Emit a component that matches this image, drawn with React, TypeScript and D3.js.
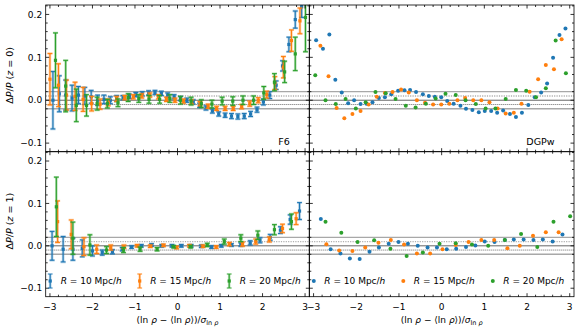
import React from "react";
import * as d3 from "d3";

// ---------- axes ----------
const X_DOMAIN: [number, number] = [-3.1, 3.1];
const Y_DOMAIN: [number, number] = [-0.12, 0.222];
const xTickValues = [-3, -2, -1, 0, 1, 2, 3];
const yTickValues = [-0.1, 0.0, 0.1, 0.2];
const refLevels = [-0.02, -0.01, 0, 0.01, 0.02];
const seriesRadii = ["10", "15", "20"];
const panelLabels = ["F6", "DGPw", "", ""];
const rowRedshifts = ["0", "1"];

// ---------- F6, z = 0 ----------
const f6z0X10 = [-2.93, -2.78, -2.63, -2.48, -2.33, -2.18, -2.03, -1.88, -1.73, -1.58, -1.43, -1.28, -1.13, -0.98, -0.83, -0.68, -0.53, -0.38, -0.23, -0.08, 0.07, 0.22, 0.37, 0.52, 0.67, 0.82, 0.97, 1.12, 1.27, 1.42, 1.57, 1.72, 1.87, 2.02, 2.17, 2.32, 2.47, 2.62, 2.77, 2.92];
const f6z0Y10 = [0.0, 0.015, 0.012, 0.005, 0.012, 0.01, 0.008, 0.0, 0.002, 0.0, 0.004, 0.006, 0.009, 0.013, 0.015, 0.017, 0.018, 0.016, 0.012, 0.008, 0.004, 0.0, -0.004, -0.012, -0.018, -0.025, -0.032, -0.035, -0.037, -0.038, -0.037, -0.032, -0.022, -0.004, 0.012, 0.035, 0.08, 0.13, 0.188, 0.218];
const f6z0E10 = [0.067, 0.042, 0.035, 0.03, 0.02, 0.02, 0.015, 0.012, 0.01, 0.008, 0.007, 0.005, 0.005, 0.005, 0.005, 0.005, 0.005, 0.005, 0.005, 0.005, 0.005, 0.005, 0.005, 0.005, 0.005, 0.005, 0.005, 0.005, 0.006, 0.006, 0.006, 0.006, 0.006, 0.007, 0.008, 0.01, 0.012, 0.017, 0.02, 0.025];
const f6z0X15 = [-3.0, -2.8, -2.61, -2.41, -2.22, -2.02, -1.82, -1.63, -1.43, -1.24, -1.04, -0.84, -0.65, -0.45, -0.26, -0.06, 0.14, 0.33, 0.53, 0.72, 0.92, 1.12, 1.31, 1.51, 1.7, 1.9, 2.1, 2.29, 2.49, 2.68, 2.88];
const f6z0Y15 = [0.049, 0.035, 0.012, 0.009, 0.002, -0.008, -0.009, -0.005, 0.003, 0.006, 0.008, 0.01, 0.012, 0.008, 0.002, 0.0, -0.002, -0.004, -0.008, -0.014, -0.019, -0.019, -0.019, -0.015, -0.008, 0.0, 0.013, 0.04, 0.077, 0.139, 0.185];
const f6z0E15 = [0.06, 0.05, 0.035, 0.033, 0.028, 0.017, 0.012, 0.008, 0.006, 0.005, 0.005, 0.005, 0.005, 0.005, 0.005, 0.005, 0.005, 0.005, 0.005, 0.005, 0.005, 0.005, 0.005, 0.005, 0.006, 0.006, 0.008, 0.015, 0.025, 0.025, 0.03];
const f6z0X20 = [-2.87, -2.63, -2.38, -2.14, -1.89, -1.65, -1.4, -1.16, -0.91, -0.67, -0.42, -0.18, 0.07, 0.32, 0.56, 0.81, 1.05, 1.3, 1.54, 1.79, 2.03, 2.28, 2.52, 2.77, 3.01];
const f6z0Y20 = [0.093, 0.033, -0.012, -0.012, -0.008, -0.008, -0.006, 0.006, 0.004, 0.002, 0.002, 0.004, 0.0, -0.002, -0.008, -0.009, -0.002, -0.002, 0.0, 0.0, 0.017, 0.042, 0.066, 0.108, 0.193];
const f6z0E20 = [0.064, 0.06, 0.038, 0.025, 0.015, 0.01, 0.009, 0.009, 0.009, 0.009, 0.009, 0.009, 0.009, 0.009, 0.009, 0.009, 0.009, 0.01, 0.01, 0.01, 0.015, 0.02, 0.025, 0.039, 0.08];

// ---------- DGPw, z = 0 ----------
const dgpz0X10 = [-2.94, -2.78, -2.63, -2.49, -2.34, -2.19, -2.05, -1.9, -1.76, -1.62, -1.47, -1.33, -1.18, -1.02, -0.87, -0.74, -0.6, -0.44, -0.3, -0.16, -0.01, 0.13, 0.28, 0.44, 0.57, 0.72, 0.87, 1.01, 1.16, 1.3, 1.44, 1.6, 1.74, 1.88, 2.03, 2.18, 2.33, 2.47, 2.61, 2.76, 2.9];
const dgpz0Y10 = [0.14, 0.12, 0.153, 0.048, 0.018, -0.007, 0.0, -0.009, -0.008, -0.005, 0.005, 0.007, 0.014, 0.022, 0.023, 0.024, 0.019, 0.014, 0.01, 0.008, 0.007, -0.002, -0.008, -0.013, -0.02, -0.023, -0.028, -0.025, -0.025, -0.029, -0.024, -0.032, -0.039, -0.029, -0.011, 0.007, 0.018, 0.039, 0.099, 0.152, 0.167];
const dgpz0X15 = [-2.84, -2.65, -2.46, -2.28, -2.09, -1.9, -1.71, -1.52, -1.33, -1.15, -0.95, -0.77, -0.58, -0.39, -0.2, -0.01, 0.18, 0.37, 0.55, 0.74, 0.93, 1.12, 1.31, 1.5, 1.69, 1.87, 2.06, 2.26, 2.44, 2.63, 2.81];
const dgpz0Y15 = [0.127, 0.056, -0.018, -0.042, -0.032, -0.025, -0.01, 0.008, 0.017, 0.019, 0.025, 0.018, 0.0, -0.006, -0.01, -0.01, -0.008, 0.0, 0.005, 0.0, 0.0, -0.005, -0.019, -0.031, -0.029, -0.008, 0.02, 0.049, 0.082, 0.072, 0.142];
const dgpz0X20 = [-2.96, -2.72, -2.48, -2.25, -2.01, -1.78, -1.55, -1.31, -1.08, -0.84, -0.61, -0.37, -0.14, 0.09, 0.33, 0.56, 0.8, 1.03, 1.26, 1.5, 1.74, 1.98, 2.21, 2.44, 2.67, 2.91];
const dgpz0Y20 = [0.058, 0.0, -0.009, 0.003, -0.019, -0.005, 0.019, 0.016, 0.003, -0.013, -0.017, -0.008, 0.004, 0.015, 0.012, 0.0, -0.009, -0.019, -0.019, 0.003, 0.024, 0.022, 0.007, 0.028, 0.139, 0.063];

// ---------- F6, z = 1 ----------
const f6z1X10 = [-2.95, -2.69, -2.46, -2.24, -2.0, -1.77, -1.53, -1.3, -1.08, -0.85, -0.61, -0.37, -0.13, 0.09, 0.32, 0.56, 0.8, 1.03, 1.27, 1.49, 1.71, 1.94, 2.18, 2.42, 2.65, 2.87];
const f6z1Y10 = [0.0, -0.008, -0.008, -0.006, -0.012, -0.016, -0.014, -0.008, -0.003, 0.0, 0.002, 0.0, 0.0, 0.0, 0.0, -0.001, -0.003, 0.0, 0.002, 0.003, 0.007, 0.013, 0.02, 0.037, 0.062, 0.082];
const f6z1E10 = [0.034, 0.03, 0.026, 0.02, 0.012, 0.006, 0.005, 0.004, 0.003, 0.003, 0.003, 0.003, 0.003, 0.003, 0.003, 0.003, 0.003, 0.003, 0.003, 0.004, 0.005, 0.006, 0.007, 0.008, 0.011, 0.02];
const f6z1X15 = [-2.82, -2.5, -2.2, -1.9, -1.57, -1.26, -0.95, -0.64, -0.33, -0.02, 0.28, 0.6, 0.91, 1.22, 1.53, 1.84, 2.16, 2.47, 2.79];
const f6z1Y15 = [0.057, 0.027, -0.002, -0.008, -0.004, -0.002, 0.0, -0.001, 0.001, -0.004, 0.0, -0.001, -0.003, 0.004, 0.004, 0.01, 0.015, 0.041, 0.064];
const f6z1E15 = [0.049, 0.034, 0.021, 0.01, 0.006, 0.004, 0.003, 0.003, 0.003, 0.003, 0.003, 0.003, 0.003, 0.004, 0.005, 0.006, 0.006, 0.01, 0.014];
const f6z1X20 = [-2.85, -2.46, -2.06, -1.67, -1.27, -0.88, -0.48, -0.09, 0.31, 0.7, 1.1, 1.49, 1.89, 2.28, 2.68];
const f6z1Y20 = [0.092, 0.018, 0.002, -0.01, -0.01, -0.008, -0.008, -0.002, -0.002, 0.002, 0.01, 0.018, 0.025, 0.038, 0.057];
const f6z1E20 = [0.07, 0.038, 0.024, 0.008, 0.006, 0.005, 0.004, 0.003, 0.003, 0.004, 0.006, 0.008, 0.01, 0.012, 0.018];

// ---------- DGPw, z = 1 ----------
const dgpz1X10 = [-2.83, -2.6, -2.37, -2.15, -1.92, -1.69, -1.47, -1.24, -1.01, -0.79, -0.56, -0.33, -0.11, 0.12, 0.34, 0.57, 0.79, 1.01, 1.24, 1.48, 1.69, 1.92, 2.15, 2.37, 2.6, 2.83];
const dgpz1Y10 = [0.063, -0.008, -0.018, -0.03, -0.031, -0.014, -0.004, 0.005, 0.009, 0.005, 0.0, -0.004, -0.004, -0.008, -0.007, -0.003, 0.001, 0.01, 0.009, 0.014, 0.015, 0.015, 0.014, 0.015, 0.01, 0.027];
const dgpz1X15 = [-2.7, -2.4, -2.09, -1.79, -1.48, -1.19, -0.88, -0.58, -0.27, 0.02, 0.33, 0.63, 0.93, 1.23, 1.54, 1.83, 2.14, 2.44, 2.74];
const dgpz1Y15 = [0.004, -0.011, -0.012, -0.004, 0.007, 0.014, 0.003, -0.018, -0.018, -0.008, 0.002, 0.009, 0.014, 0.014, -0.006, 0.0, 0.024, 0.032, 0.032];
const dgpz1X20 = [-2.72, -2.35, -1.97, -1.58, -1.2, -0.82, -0.44, -0.05, 0.33, 0.71, 1.09, 1.48, 1.86, 2.24, 2.62, 3.01];
const dgpz1Y20 = [0.057, 0.031, 0.009, 0.013, -0.007, -0.024, -0.016, 0.005, 0.006, 0.003, 0.0, 0.014, 0.028, -0.003, 0.057, 0.07];

const COLORS = ["#1f77b4", "#ff7f0e", "#2ca02c"];
const FONT = "DejaVu Sans, sans-serif";

type Series = { x: number[]; y: number[]; e?: number[] };

const panelSeries: Series[][] = [
  [
    { x: f6z0X10, y: f6z0Y10, e: f6z0E10 },
    { x: f6z0X15, y: f6z0Y15, e: f6z0E15 },
    { x: f6z0X20, y: f6z0Y20, e: f6z0E20 },
  ],
  [
    { x: dgpz0X10, y: dgpz0Y10 },
    { x: dgpz0X15, y: dgpz0Y15 },
    { x: dgpz0X20, y: dgpz0Y20 },
  ],
  [
    { x: f6z1X10, y: f6z1Y10, e: f6z1E10 },
    { x: f6z1X15, y: f6z1Y15, e: f6z1E15 },
    { x: f6z1X20, y: f6z1Y20, e: f6z1E20 },
  ],
  [
    { x: dgpz1X10, y: dgpz1Y10 },
    { x: dgpz1X15, y: dgpz1Y15 },
    { x: dgpz1X20, y: dgpz1Y20 },
  ],
];

const COL_EDGES = [45.7, 309.3, 574];
const ROW_EDGES = [5, 151.7, 296.7];

const fmtY = d3.format(".1f");
const fmtX = d3.format("d");

function LegendText({ r }: { r: string }) {
  return (
    <>
      <tspan fontStyle="italic">R</tspan>
      {" = " + r + " Mpc/"}
      <tspan fontStyle="italic">h</tspan>
    </>
  );
}

function Panel({ idx }: { idx: number }) {
  const col = idx % 2;
  const row = Math.floor(idx / 2);
  const x0 = COL_EDGES[col], x1 = COL_EDGES[col + 1];
  const y0 = ROW_EDGES[row], y1 = ROW_EDGES[row + 1];
  const xs = d3.scaleLinear().domain(X_DOMAIN).range([x0, x1]);
  const ys = d3.scaleLinear().domain(Y_DOMAIN).range([y1, y0]);
  const minorX = d3.range(-3, 3.0001, 0.2).map((v) => Math.round(v * 10) / 10);
  const minorY = d3.range(-0.1, 0.2201, 0.02).map((v) => Math.round(v * 100) / 100);
  const clipId = "clip" + idx;
  const series = panelSeries[idx];
  const withErr = col === 0;
  const tickC = "#000";
  return (
    <g>
      <defs>
        <clipPath id={clipId}>
          <rect x={x0} y={y0} width={x1 - x0} height={y1 - y0} />
        </clipPath>
      </defs>
      <g clipPath={`url(#${clipId})`}>
        {refLevels.map((lv) => {
          const y = ys(lv);
          let stroke = "#555", sw = 0.9, dash: string | undefined;
          if (Math.abs(lv) === 0.02) { stroke = "#a8a8a8"; sw = 1.4; }
          if (lv === 0.01) { stroke = "#b0b0b0"; sw = 1.4; dash = "1.2,1.2"; }
          if (lv === -0.01) { stroke = "#444"; sw = 0.8; dash = "1,1"; }
          return <line key={lv} x1={x0} x2={x1} y1={y} y2={y} stroke={stroke} strokeWidth={sw} strokeDasharray={dash} />;
        })}
        {series.map((s, si) => (
          <g key={si}>
            {s.x.map((xv, i) => {
              const cx = xs(xv), cy = ys(s.y[i]);
              if (withErr && s.e) {
                const ya = ys(s.y[i] + s.e[i]), yb = ys(s.y[i] - s.e[i]);
                return (
                  <g key={i}>
                    <line x1={cx} x2={cx} y1={ya} y2={yb} stroke={COLORS[si]} strokeOpacity={0.35} strokeWidth={2.6} />
                    <line x1={cx - 2.6} x2={cx + 2.6} y1={ya} y2={ya} stroke={COLORS[si]} strokeOpacity={0.35} strokeWidth={2.4} />
                    <line x1={cx - 2.6} x2={cx + 2.6} y1={yb} y2={yb} stroke={COLORS[si]} strokeOpacity={0.35} strokeWidth={2.4} />
                    <line x1={cx} x2={cx} y1={ya} y2={yb} stroke={COLORS[si]} strokeWidth={1.1} />
                    <line x1={cx - 2.4} x2={cx + 2.4} y1={ya} y2={ya} stroke={COLORS[si]} strokeWidth={1} />
                    <line x1={cx - 2.4} x2={cx + 2.4} y1={yb} y2={yb} stroke={COLORS[si]} strokeWidth={1} />
                    <rect x={cx - 1.6} y={cy - 1.6} width={3.2} height={3.2} fill={COLORS[si]} />
                  </g>
                );
              }
              return <circle key={i} cx={cx} cy={cy} r={2} fill={COLORS[si]} />;
            })}
          </g>
        ))}
      </g>
      {/* ticks, inward on all sides */}
      {minorX.map((v) => {
        const x = xs(v);
        const major = Number.isInteger(v);
        const L = major ? 3.5 : 2;
        return (
          <g key={"xt" + v}>
            <line x1={x} x2={x} y1={y1} y2={y1 - L} stroke={tickC} strokeWidth={0.8} />
            <line x1={x} x2={x} y1={y0} y2={y0 + L} stroke={tickC} strokeWidth={0.8} />
          </g>
        );
      })}
      {minorY.map((v) => {
        const y = ys(v);
        const major = Math.abs(Math.round(v * 10) - v * 10) < 1e-6;
        const L = major ? 3.5 : 2;
        return (
          <g key={"yt" + v}>
            <line x1={x0} x2={x0 + L} y1={y} y2={y} stroke={tickC} strokeWidth={0.8} />
            <line x1={x1} x2={x1 - L} y1={y} y2={y} stroke={tickC} strokeWidth={0.8} />
          </g>
        );
      })}
      <rect x={x0} y={y0} width={x1 - x0} height={y1 - y0} fill="none" stroke="#000" strokeWidth={0.8} />
      {/* tick labels */}
      {row === 1 &&
        xTickValues.map((v) => (
          <text key={"xl" + v} x={xs(v)} y={y1 + 13} textAnchor="middle" fontSize={9} fontFamily={FONT} fill="#000">
            {fmtX(v)}
          </text>
        ))}
      {col === 0 &&
        yTickValues.map((v) => (
          <text key={"yl" + v} x={x0 - 3.5} y={ys(v) + 3.2} textAnchor="end" fontSize={9} fontFamily={FONT} fill="#000">
            {fmtY(v)}
          </text>
        ))}
      {panelLabels[idx] && (
        <text x={x1 - 19.5} y={y1 - 7} textAnchor="end" fontSize={9.5} fontFamily={FONT} fill="#000">
          {panelLabels[idx]}
        </text>
      )}
      {col === 0 && (
        <text
          transform={`translate(${13},${(y0 + y1) / 2 - 3}) rotate(-90)`}
          textAnchor="middle"
          fontSize={9.5}
          fontFamily={FONT}
          fill="#000"
        >
          {"Δ"}
          <tspan fontStyle="italic">P</tspan>
          {"/"}
          <tspan fontStyle="italic">P</tspan>
          {" ("}
          <tspan fontStyle="italic">z</tspan>
          {" = " + rowRedshifts[row] + ")"}
        </text>
      )}
      {row === 1 && (
        <text x={(x0 + x1) / 2} y={y1 + 26} textAnchor="middle" fontSize={9} fontFamily={FONT} fill="#000">
          {"(ln "}
          <tspan fontStyle="italic">ρ</tspan>
          {" − ⟨ln "}
          <tspan fontStyle="italic">ρ</tspan>
          {"⟩)/"}
          <tspan fontStyle="italic">σ</tspan>
          <tspan fontSize={6.5} dy={2}>{"ln "}</tspan>
          <tspan fontSize={6.5} fontStyle="italic">ρ</tspan>
        </text>
      )}
      {row === 1 &&
        seriesRadii.map((r, si) => {
          const gx = x0 + 4.5 + si * 89.5;
          const gy = 281;
          return (
            <g key={"lg" + si}>
              {withErr ? (
                <g>
                  <line x1={gx} x2={gx} y1={gy - 7} y2={gy + 7} stroke={COLORS[si]} strokeOpacity={0.35} strokeWidth={2.6} />
                  <line x1={gx} x2={gx} y1={gy - 7} y2={gy + 7} stroke={COLORS[si]} strokeWidth={1.1} />
                  <line x1={gx - 2.4} x2={gx + 2.4} y1={gy - 7} y2={gy - 7} stroke={COLORS[si]} strokeWidth={1} />
                  <line x1={gx - 2.4} x2={gx + 2.4} y1={gy + 7} y2={gy + 7} stroke={COLORS[si]} strokeWidth={1} />
                  <rect x={gx - 1.6} y={gy - 1.6} width={3.2} height={3.2} fill={COLORS[si]} />
                </g>
              ) : (
                <circle cx={gx} cy={gy} r={2} fill={COLORS[si]} />
              )}
              <text x={gx + 10.5} y={gy + 3.3} fontSize={9} fontFamily={FONT} fill="#000">
                <LegendText r={r} />
              </text>
            </g>
          );
        })}
    </g>
  );
}

export default function App() {
  return (
    <svg width={581} height={331} viewBox="0 0 581 331" style={{ position: "absolute", left: 0, top: 0, background: "#fff" }}>
      <rect x={0} y={0} width={581} height={331} fill="#fff" />
      {[0, 1, 2, 3].map((i) => (
        <Panel key={i} idx={i} />
      ))}
    </svg>
  );
}
